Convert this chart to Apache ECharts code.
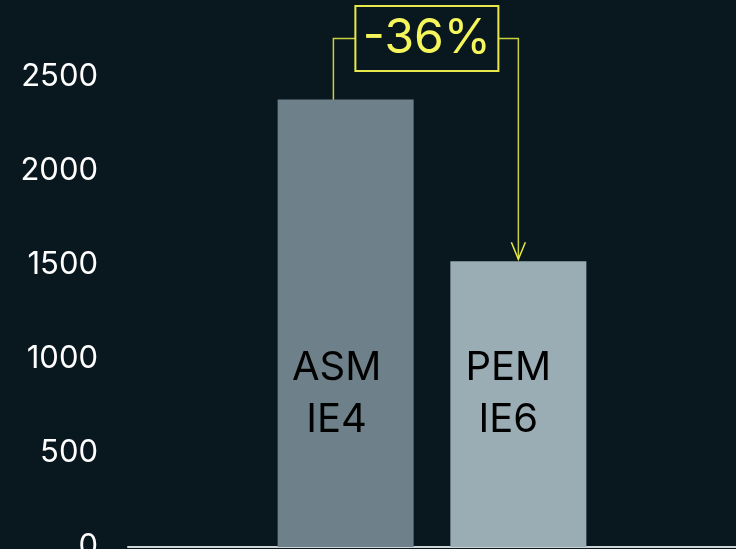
<!DOCTYPE html>
<html>
<head>
<meta charset="utf-8">
<script src="https://cdn.jsdelivr.net/npm/echarts@6/dist/echarts.min.js"></script>
<style>
html,body{margin:0;padding:0;background:#09181f;}
#main{width:736px;height:549px;}
</style>
</head>
<body>
<div id="main"></div>
<script>
// Data
var categories = ['IE'];
var seriesNames = ['ASM\nIE4', 'PEM\nIE6'];
var asmValues = [2380];
var pemValues = [1520];
var yTicks = [0, 500, 1000, 1500, 2000, 2500];

var FONT = 'Inter, "Noto Sans", sans-serif';
var chart = echarts.init(document.getElementById('main'), null, {renderer: 'canvas'});

function barLabel(name, dx) {
  return {
    show: true,
    position: 'insideBottom',
    distance: 101,
    offset: [dx, 0],
    formatter: name,
    fontFamily: FONT,
    fontSize: 40,
    lineHeight: 52,
    color: '#000000'
  };
}

chart.setOption({
  backgroundColor: '#09181f',
  animation: false,
  grid: {left: 128, right: 0, top: 77, bottom: 2, containLabel: false, outerBoundsMode: 'none'},
  xAxis: {
    type: 'category',
    data: categories,
    axisLine: {show: true, lineStyle: {color: '#cdd4d7', width: 2}},
    axisTick: {show: false},
    axisLabel: {show: false},
    splitLine: {show: false}
  },
  yAxis: {
    type: 'value',
    min: yTicks[0],
    max: yTicks[yTicks.length - 1],
    interval: yTicks[1] - yTicks[0],
    axisLine: {show: false},
    axisTick: {show: false},
    splitLine: {show: false},
    axisLabel: {color: '#ffffff', fontFamily: FONT, fontSize: 31, margin: 30,
      formatter: function (v) { return String(v); }}
  },
  series: [
    {
      name: seriesNames[0], type: 'bar', data: asmValues,
      barWidth: 136, barGap: '27%',
      itemStyle: {color: '#6e8089'},
      label: barLabel(seriesNames[0], -9)
    },
    {
      name: seriesNames[1], type: 'bar', data: pemValues,
      barWidth: 136,
      itemStyle: {color: '#9aadb4'},
      label: barLabel(seriesNames[1], -10)
    }
  ]
});

// Annotation derived from bar layouts
var l0 = chart.getModel().getSeriesByIndex(0).getData().getItemLayout(0);
var l1 = chart.getModel().getSeriesByIndex(1).getData().getItemLayout(0);
var topA = chart.convertToPixel({yAxisIndex: 0}, asmValues[0]);
var topB = chart.convertToPixel({yAxisIndex: 0}, pemValues[0]);
var xA = l0.x + l0.width * 0.41;
var xB = l1.x + l1.width / 2;
var boxW = 143, boxH = 65, boxTop = 6;
var cx = (xA + xB) / 2 + 1;
var cy = boxTop + boxH / 2;
var pct = Math.round((pemValues[0] - asmValues[0]) / asmValues[0] * 100);
var lineColor = '#c8d03c';

chart.setOption({
  graphic: [
    {type: 'polyline', shape: {points: [[cx - boxW / 2, cy], [xA, cy], [xA, topA + 2]]},
      style: {stroke: lineColor, lineWidth: 1.5, fill: null}},
    {type: 'polyline', shape: {points: [[cx + boxW / 2, cy], [xB, cy], [xB, topB - 2]]},
      style: {stroke: lineColor, lineWidth: 1.5, fill: null}},
    {type: 'polyline', shape: {points: [[xB - 7, topB - 19], [xB, topB - 2], [xB + 7, topB - 19]]},
      style: {stroke: '#e6ea44', lineWidth: 1.5, fill: null}},
    {type: 'rect', shape: {x: cx - boxW / 2, y: boxTop, width: boxW, height: boxH},
      style: {stroke: '#e8e84a', lineWidth: 2, fill: '#09181f'}},
    {type: 'text', x: cx, y: cy,
      style: {text: pct + '%', fill: '#f5f55c', font: '48px ' + FONT, align: 'center', verticalAlign: 'middle'}}
  ]
});
</script>
</body>
</html>
